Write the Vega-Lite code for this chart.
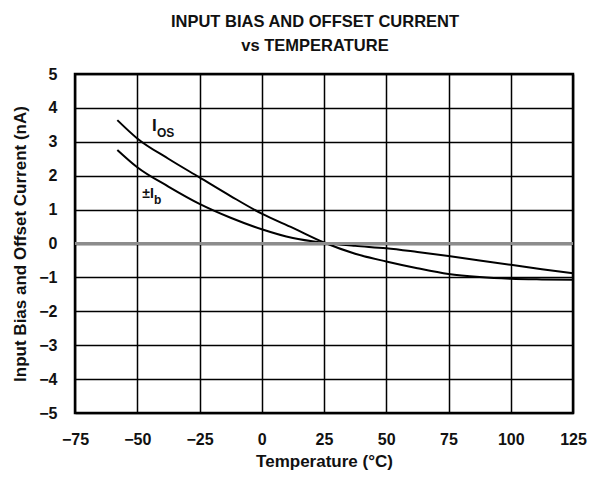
{
  "$schema": "https://vega.github.io/schema/vega-lite/v6.json",
  "width": 498,
  "height": 339,
  "autosize": "none",
  "padding": {"left": 75, "top": 74, "right": 17, "bottom": 67},
  "background": "white",
  "config": {
    "font": "Liberation Sans",
    "view": {"stroke": "black", "strokeWidth": 2.5},
    "axis": {"labelFont": "Liberation Sans", "titleFont": "Liberation Sans", "labelColor": "#111111", "titleColor": "#111111", "labelFontWeight": "bold", "titleFontWeight": "bold"}
  },
  "title": {
    "text": ["INPUT BIAS AND OFFSET CURRENT", "vs TEMPERATURE"],
    "font": "Liberation Sans",
    "fontSize": 16.5,
    "fontWeight": "bold",
    "color": "#111111",
    "lineHeight": 24,
    "offset": 12,
    "dx": -9
  },
  "datasets": {
    "curves": [
      {"T": -58, "v": 3.64, "s": "IOS"},
      {"T": -50, "v": 3.1, "s": "IOS"},
      {"T": -37.5, "v": 2.5, "s": "IOS"},
      {"T": -25, "v": 1.95, "s": "IOS"},
      {"T": -12.5, "v": 1.4, "s": "IOS"},
      {"T": 0, "v": 0.88, "s": "IOS"},
      {"T": 12.5, "v": 0.46, "s": "IOS"},
      {"T": 25, "v": 0.03, "s": "IOS"},
      {"T": 37.5, "v": -0.3, "s": "IOS"},
      {"T": 50, "v": -0.53, "s": "IOS"},
      {"T": 62.5, "v": -0.73, "s": "IOS"},
      {"T": 75, "v": -0.9, "s": "IOS"},
      {"T": 87.5, "v": -0.99, "s": "IOS"},
      {"T": 100, "v": -1.04, "s": "IOS"},
      {"T": 112.5, "v": -1.06, "s": "IOS"},
      {"T": 125, "v": -1.07, "s": "IOS"},
      {"T": -58, "v": 2.76, "s": "Ib"},
      {"T": -50, "v": 2.25, "s": "Ib"},
      {"T": -37.5, "v": 1.68, "s": "Ib"},
      {"T": -25, "v": 1.17, "s": "Ib"},
      {"T": -12.5, "v": 0.76, "s": "Ib"},
      {"T": 0, "v": 0.42, "s": "Ib"},
      {"T": 12.5, "v": 0.16, "s": "Ib"},
      {"T": 25, "v": 0.02, "s": "Ib"},
      {"T": 37.5, "v": -0.07, "s": "Ib"},
      {"T": 50, "v": -0.14, "s": "Ib"},
      {"T": 62.5, "v": -0.25, "s": "Ib"},
      {"T": 75, "v": -0.37, "s": "Ib"},
      {"T": 87.5, "v": -0.5, "s": "Ib"},
      {"T": 100, "v": -0.63, "s": "Ib"},
      {"T": 112.5, "v": -0.76, "s": "Ib"},
      {"T": 125, "v": -0.88, "s": "Ib"}
    ],
    "osMain": [{"T": -44.1, "v": 3.32, "t": "I"}],
    "ibMain": [{"T": -48.0, "v": 1.34, "t": "±I"}],
    "subLabels": [
      {"T": -42.1, "v": 3.14, "t": "OS"},
      {"T": -43.3, "v": 1.165, "t": "b"}
    ],
    "zero": [{"v": 0}]
  },
  "layer": [
    {
      "data": {"name": "curves"},
      "mark": {"type": "line", "color": "black", "strokeWidth": 2, "interpolate": "monotone"},
      "encoding": {
        "x": {"field": "T", "type": "quantitative", "scale": {"domain": [-75, 125], "nice": false},
          "axis": {
            "values": [-75, -50, -25, 0, 25, 50, 75, 100, 125],
            "title": "Temperature (°C)",
            "titleFontSize": 17,
            "titlePadding": 6,
            "labelFontSize": 16,
            "labelPadding": 18,
            "labelOverlap": false,
            "labelFlush": false,
            "domain": false,
            "ticks": false,
            "grid": true,
            "gridColor": "black",
            "gridWidth": 1.5,
            "gridOpacity": 1
          }
        },
        "y": {"field": "v", "type": "quantitative", "scale": {"domain": [-5, 5], "nice": false},
          "axis": {
            "values": [-5, -4, -3, -2, -1, 0, 1, 2, 3, 4, 5],
            "tickCount": 11,
            "title": "Input Bias and Offset Current (nA)",
            "titleFontSize": 17,
            "titlePadding": 9,
            "labelFontSize": 16,
            "labelPadding": 18,
            "labelOverlap": false,
            "labelFlush": false,
            "domain": false,
            "ticks": false,
            "grid": true,
            "gridColor": "black",
            "gridWidth": 1.5,
            "gridOpacity": 1
          }
        },
        "detail": {"field": "s", "type": "nominal"}
      }
    },
    {
      "data": {"name": "zero"},
      "mark": {"type": "rule", "color": "#8c8c8c", "strokeWidth": 3},
      "encoding": {
        "y": {"field": "v", "type": "quantitative"}
      }
    },
    {
      "data": {"name": "osMain"},
      "mark": {"type": "text", "fontSize": 17, "fontWeight": "bold", "align": "left", "baseline": "alphabetic", "color": "#111111", "font": "Liberation Sans"},
      "encoding": {
        "x": {"field": "T", "type": "quantitative"},
        "y": {"field": "v", "type": "quantitative"},
        "text": {"field": "t"}
      }
    },
    {
      "data": {"name": "ibMain"},
      "mark": {"type": "text", "fontSize": 14, "fontWeight": "bold", "align": "left", "baseline": "alphabetic", "color": "#111111", "font": "Liberation Sans"},
      "encoding": {
        "x": {"field": "T", "type": "quantitative"},
        "y": {"field": "v", "type": "quantitative"},
        "text": {"field": "t"}
      }
    },
    {
      "data": {"name": "subLabels"},
      "mark": {"type": "text", "fontSize": 12, "fontWeight": "bold", "align": "left", "baseline": "alphabetic", "color": "#111111", "font": "Liberation Sans"},
      "encoding": {
        "x": {"field": "T", "type": "quantitative"},
        "y": {"field": "v", "type": "quantitative"},
        "text": {"field": "t"}
      }
    }
  ]
}
